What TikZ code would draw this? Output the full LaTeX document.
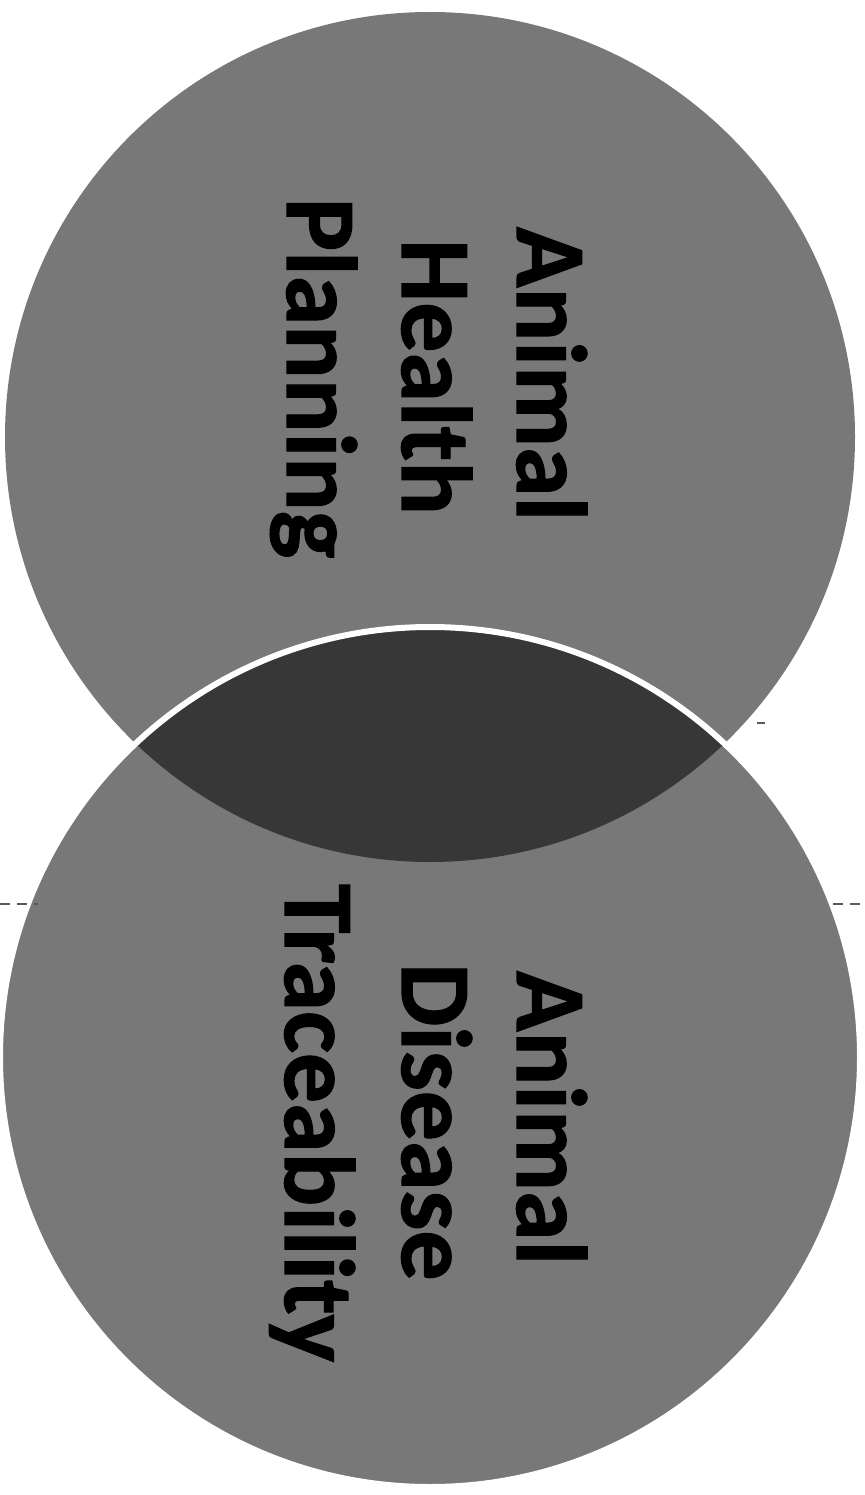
\documentclass[tikz,border=0pt]{standalone}
\usepackage{fontspec}
\setmainfont[BoldFeatures={FakeBold=1.2}]{Carlito}
\definecolor{circlegray}{RGB}{120,120,120}
\definecolor{lensgray}{RGB}{55,55,55}
\definecolor{markgray}{RGB}{90,90,90}
\tikzset{
  circlefill/.style={fill=circlegray, draw=none},
  lbl/.style={rotate=-90, anchor=base, inner sep=0pt, text=black,
              font=\fontsize{100}{115}\selectfont\bfseries},
  scanmark/.style={draw=markgray, line width=1.4pt, dash pattern=on 10pt off 7pt}
}
\begin{document}
\begin{tikzpicture}[x=1pt,y=-1pt]
\useasboundingbox (0,0) rectangle (864,1495);
\fill[white] (0,0) rectangle (864,1495);
% circles
\coordinate (ctop) at (430,437);
\coordinate (cbot) at (430,1057);
\fill[circlefill] (ctop) circle (425);
\fill[circlefill] (cbot) circle (430);
% overlap
\begin{scope}
  \clip (ctop) circle (425);
  \fill[lensgray] (cbot) circle (430);
\end{scope}
% white outline of the lower circle
\draw[white, line width=6pt] (cbot) circle (430);
% labels, top circle
\node[lbl] (a1) at (517,374) {Animal};
\node[lbl] (a2) at (402,377) {Health};
\node[lbl] (a3) at (287,378) {Planning};
% labels, bottom circle
\node[lbl] (b1) at (517,1118) {Animal};
\node[lbl] (b2) at (402,1122) {Disease};
\node[lbl] (b3) at (285,1123) {Traceability};
% stray scan marks
\draw[scanmark] (757,723) -- (765,723);
\draw[scanmark] (833,904) -- (864,904);
\draw[scanmark] (0,904) -- (38,904);
\end{tikzpicture}
\end{document}
